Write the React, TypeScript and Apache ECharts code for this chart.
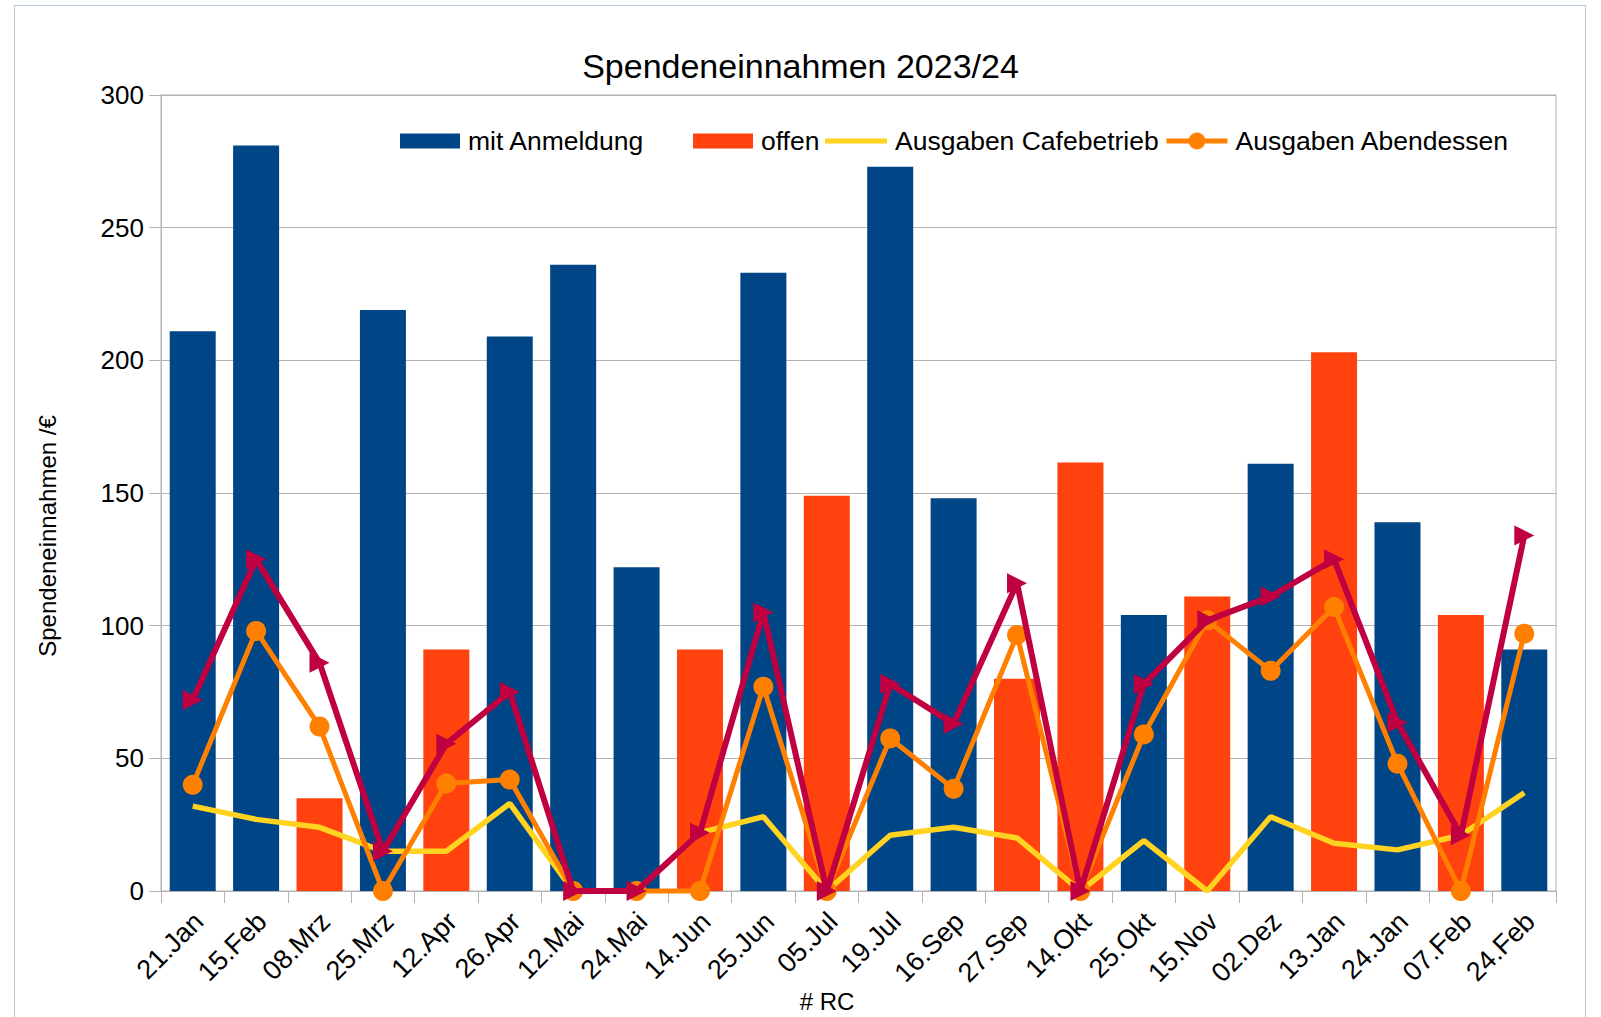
import React, { useEffect, useRef } from "react";
import * as echarts from "echarts";

const categories = [
  "21.Jan", "15.Feb", "08.Mrz", "25.Mrz", "12.Apr", "26.Apr", "12.Mai", "24.Mai",
  "14.Jun", "25.Jun", "05.Jul", "19.Jul", "16.Sep", "27.Sep", "14.Okt", "25.Okt",
  "15.Nov", "02.Dez", "13.Jan", "24.Jan", "07.Feb", "24.Feb",
];

const mitAnmeldung = [211, 281, null, 219, null, 209, 236, 122, null, 233, null, 273, 148, null, null, 104, null, 161, null, 139, null, 91];
const offen = [null, null, 35, null, 91, null, null, null, 91, null, 149, null, null, 80, 161.5, null, 111, null, 203, null, 104, null];
const cafebetrieb = [32, 27, 24, 15, 15, 33, 0, 0, 22, 28, 0, 21, 24, 20, 0, 19, 0, 28, 18, 15.5, 21, 37];
const abendessen = [40, 98, 62, 0, 40.5, 42, 0, 0, 0, 77, 0, 57.5, 38.5, 96.5, 0, 59, 102, 83, 107, 48, 0, 97];
const summeAusgaben = [72, 125, 86, 15, 55.5, 75, 0, 0, 22, 105, 0, 78, 63, 116, 0, 78, 102, 111, 125, 63.5, 21, 134];

const yMin = 0;
const yMax = 300;
const yInterval = 50;

const FONT = "Liberation Sans";

export default function App() {
  const ref = useRef<HTMLDivElement>(null);

  useEffect(() => {
    const chart = echarts.init(ref.current as HTMLDivElement, null, { renderer: "svg" });
    const legendText = { fontSize: 26.5, color: "#000000", fontFamily: FONT, lineHeight: 30, padding: [0, 0, 0, 3] };
    chart.setOption({
      animation: false,
      backgroundColor: "#ffffff",
      textStyle: { fontFamily: FONT },
      title: {
        text: "Spendeneinnahmen 2023/24",
        left: "center",
        top: 49,
        padding: 0,
        textStyle: { fontSize: 34, fontWeight: "normal", color: "#000000", fontFamily: FONT },
      },
      legend: [
        { data: ["mit Anmeldung"], left: 400, top: 126, padding: 0, itemWidth: 60, itemHeight: 15, icon: "rect", selectedMode: false, textStyle: legendText, itemStyle: { borderWidth: 0 } },
        { data: ["offen"], left: 693, top: 126, padding: 0, itemWidth: 60, itemHeight: 15, icon: "rect", selectedMode: false, textStyle: legendText, itemStyle: { borderWidth: 0 } },
        { data: [{ name: "Ausgaben Cafebetrieb", icon: "rect" }], left: 825, top: 126, padding: 0, itemWidth: 62, itemHeight: 5, selectedMode: false, textStyle: legendText, itemStyle: { borderWidth: 0 } },
        { data: ["Ausgaben Abendessen"], left: 1164, top: 126, padding: 0, itemWidth: 61, itemHeight: 21, selectedMode: false, textStyle: legendText, lineStyle: { width: 5 }, itemStyle: { borderWidth: 0 } },
      ],
      grid: {
        left: 161,
        right: 45,
        top: 95,
        bottom: 126,
        show: true,
        borderColor: "#b3b3b3",
        borderWidth: 1,
        backgroundColor: "transparent",
      },
      xAxis: {
        type: "category",
        data: categories,
        boundaryGap: true,
        axisLine: { lineStyle: { color: "#b3b3b3", width: 1 } },
        axisTick: { show: true, length: 12, lineStyle: { color: "#b3b3b3" } },
        axisLabel: {
          rotate: 45,
          interval: 0,
          fontSize: 27,
          color: "#000000",
          fontFamily: FONT,
          margin: 20,
          verticalAlign: "top",
          lineHeight: 17,
        },
      },
      yAxis: {
        type: "value",
        min: yMin,
        max: yMax,
        interval: yInterval,
        axisLine: { show: true, lineStyle: { color: "#b3b3b3" } },
        axisTick: { show: true, length: 12, lineStyle: { color: "#b3b3b3" } },
        axisLabel: { fontSize: 26, color: "#000000", fontFamily: FONT, margin: 17 },
        splitLine: { lineStyle: { color: "#b3b3b3" } },
      },
      graphic: [
        {
          type: "rect",
          silent: true,
          shape: { x: 14.5, y: 5.5, width: 1571, height: 1100 },
          style: { fill: "none", stroke: "#b4c7dc", lineWidth: 1 },
        },
        {
          type: "text",
          x: 47,
          y: 536,
          rotation: Math.PI / 2,
          style: { text: "Spendeneinnahmen /€", fontSize: 24, fontFamily: FONT, fill: "#000000", align: "center", verticalAlign: "middle" },
        },
        {
          type: "text",
          x: 827,
          y: 1001,
          style: { text: "# RC", fontSize: 24, fontFamily: FONT, fill: "#000000", align: "center", verticalAlign: "middle" },
        },
      ],
      series: [
        { name: "mit Anmeldung", type: "bar", data: mitAnmeldung, barWidth: 46, barGap: "-100%", itemStyle: { color: "#004586" } },
        { name: "offen", type: "bar", data: offen, barWidth: 46, barGap: "-100%", itemStyle: { color: "#ff420e" } },
        {
          name: "Ausgaben Cafebetrieb",
          type: "line",
          data: cafebetrieb,
          symbol: "none",
          lineStyle: { color: "#ffd320", width: 5.5 },
          itemStyle: { color: "#ffd320" },
          z: 3,
        },
        {
          name: "Ausgaben Abendessen",
          type: "line",
          data: abendessen,
          symbol: "circle",
          symbolSize: 20,
          showAllSymbol: true,
          clip: false,
          lineStyle: { color: "#ff8000", width: 5 },
          itemStyle: { color: "#ff8000", borderWidth: 0 },
          z: 4,
        },
        {
          name: "Summe Ausgaben",
          type: "line",
          data: summeAusgaben,
          symbol: "path://M0,0 L20,10 L0,20 Z",
          symbolSize: 20,
          showAllSymbol: true,
          clip: false,
          lineStyle: { color: "#bf0041", width: 6 },
          itemStyle: { color: "#bf0041", borderWidth: 0 },
          z: 5,
        },
      ],
    });
    return () => chart.dispose();
  }, []);

  return (
    <div
      ref={ref}
      style={{ position: "fixed", left: 0, top: 0, width: 1601, height: 1017, background: "#ffffff" }}
    />
  );
}
